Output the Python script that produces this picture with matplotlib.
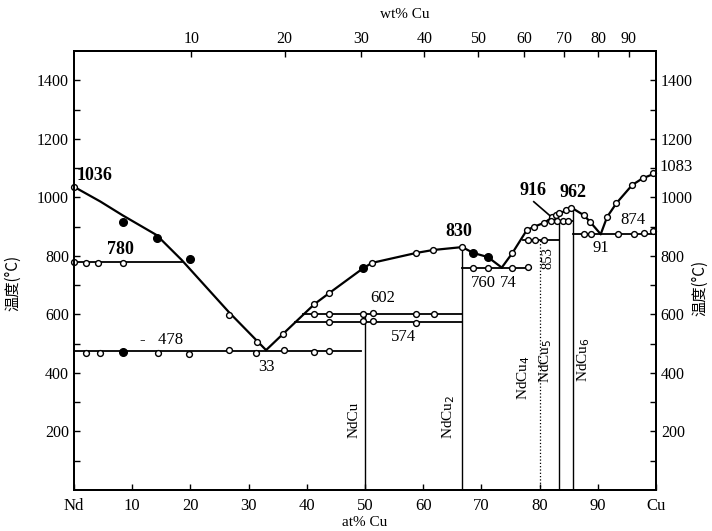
import matplotlib
matplotlib.use('Agg')
import matplotlib.pyplot as plt
import numpy as np

plt.rcParams['font.family'] = ['Liberation Serif', 'Noto Sans CJK SC', 'DejaVu Sans']

# ---------------- data (at% Cu, temperature °C) ----------------
liq1_x = [0, 4.5, 8.4, 14.2, 18.5, 26.6, 33]
liq1_t = [1036, 986, 938, 871, 786, 608, 478]
liq2_x = [33, 35.9, 41.3, 43.8, 49.7, 51.2, 58.8, 61.7, 66.7]
liq2_t = [478, 533, 635, 672, 758, 776, 810, 820, 830]
liq3_x = [66.7, 68.6, 71.1, 73.5]
liq3_t = [830, 810, 796, 760]
liq4_x = [73.5, 75.3, 77.8, 79.1, 80.8, 82.2, 83.4, 84.5, 85.7]
liq4_t = [760, 809, 888, 900, 913, 932, 944, 955, 962]
liq5_x = [85.7, 87.6, 88.6, 90.5]
liq5_t = [962, 939, 918, 874]
liq6_x = [90.5, 91.6, 93.2, 95.9, 97.7, 100]
liq6_t = [874, 933, 980, 1042, 1065, 1083]

# invariant (horizontal) lines
iso_t = [780, 475, 602, 574, 760, 853, 918, 874]
iso_x0 = [0, 0, 39.4, 38.0, 66.7, 77.2, 81.6, 85.7]
iso_x1 = [18.5, 49.3, 66.7, 66.7, 78.6, 83.3, 85.7, 100]

# compounds
comp_x = [50, 66.7, 80, 83.3, 85.7]
comp_top = [602, 830, 853, 918, 962]
comp_names = ['NdCu', 'NdCu$_2$', 'NdCu$_4$', 'NdCu$_5$', 'NdCu$_6$']
comp_style = ['-', '-', ':', '-', '-']

# measured points: open circles
open_x = [0, 26.6, 31.4, 35.9, 41.3, 43.8, 51.2, 58.8, 61.7, 66.7,
          0, 2.0, 4.2, 8.5,
          2.0, 4.5, 14.5, 19.8, 26.6, 31.3, 36.0, 41.3, 43.8,
          41.3, 43.8, 49.6, 51.3, 58.7, 61.8,
          43.8, 49.6, 51.3, 58.7,
          68.6, 71.1, 75.3, 78.0,
          75.3, 77.8, 79.1, 80.8, 82.2, 82.8, 83.4, 84.5, 85.4,
          78.0, 79.2, 80.7,
          81.9, 83.0, 84.0, 84.9,
          87.6, 88.6, 91.6, 93.2, 95.9, 97.7, 99.4,
          87.7, 88.8, 93.4, 96.2, 97.9, 99.4]
open_t = [1036, 598, 506, 533, 635, 672, 776, 810, 820, 832,
          778, 777, 777, 777,
          468, 468, 468, 466, 478, 468, 478, 470, 476,
          602, 602, 600, 604, 602, 602,
          574, 576, 576, 572,
          760, 760, 760, 762,
          809, 888, 900, 913, 934, 940, 945, 957, 965,
          853, 853, 853,
          918, 918, 918, 918,
          939, 916, 933, 980, 1042, 1065, 1083,
          874, 874, 874, 876, 879, 885]

# measured points: filled circles
fill_x = [8.5, 14.2, 19.9, 8.5, 49.7, 68.6, 71.1]
fill_t = [916, 861, 789, 472, 758, 810, 796]

# point labels
lbl_text = ['1036', '780', '-   478', '33', '602', '574', '830', '760', '74',
            '916', '962', '91', '874']
lbl_x = [0.4, 7.9, 15.0, 33.0, 53.0, 56.7, 66.1, 70.4, 74.6, 78.9, 85.7, 90.5, 96.0]
lbl_t = [1076, 822, 512, 420, 655, 524, 884, 708, 708, 1024, 1015, 826, 922]
lbl_bold = [True, True, False, False, False, False, True, False, False, True, True, False, False]
lbl_ha = ['left', 'center', 'center', 'center', 'center', 'center', 'center', 'center',
          'center', 'center', 'center', 'center', 'center']

wt_ticks = [10, 20, 30, 40, 50, 60, 70, 80, 90]
at_ticks = [0, 10, 20, 30, 40, 50, 60, 70, 80, 90, 100]
at_labels = ['Nd', '10', '20', '30', '40', '50', '60', '70', '80', '90', 'Cu']
t_ticks = [200, 400, 600, 800, 1000, 1200, 1400]

M_CU, M_ND = 63.546, 144.24


def wt_to_at(w):
    w = np.asarray(w, float)
    a = w / M_CU
    b = (100 - w) / M_ND
    return 100 * a / (a + b)


# ---------------- figure ----------------
fig = plt.figure(figsize=(7.12, 5.31), dpi=100)
ax = fig.add_axes([74 / 712, 1 - 490 / 531, (656 - 74) / 712, (490 - 51) / 531])
ax.set_xlim(0, 100)
ax.set_ylim(0, 1500)

lw_liq = 1.6
for xs, ts in [(liq1_x, liq1_t), (liq2_x, liq2_t), (liq3_x, liq3_t),
               (liq4_x, liq4_t), (liq5_x, liq5_t), (liq6_x, liq6_t)]:
    ax.plot(xs, ts, color='black', lw=lw_liq, solid_capstyle='round', zorder=3)

for t, x0, x1 in zip(iso_t, iso_x0, iso_x1):
    ax.plot([x0, x1], [t, t], color='black', lw=1.3, zorder=2)

for x, top, st in zip(comp_x, comp_top, comp_style):
    ax.plot([x, x], [0, top], color='black', lw=1.0 if st == '-' else 0.9,
            ls=st, zorder=2)

# 916 pointer
ax.plot([79.0, 82.2], [985, 930], color='black', lw=1.2, zorder=3)

ax.plot(open_x, open_t, 'o', ms=4.2, mfc='white', mec='black', mew=1.0,
        ls='none', zorder=4, clip_on=False)
ax.plot(fill_x, fill_t, 'o', ms=5.5, mfc='black', mec='black', ls='none', zorder=4)

for s, x, t, b, ha in zip(lbl_text, lbl_x, lbl_t, lbl_bold, lbl_ha):
    ax.text(x, t, s, ha=ha, va='center', fontsize=13 if b else 12,
            fontweight='bold' if b else 'normal', zorder=5)

ax.text(103.5, 1103, '1083', ha='center', va='center', fontsize=12, clip_on=False)
ax.text(81.4, 792, '853', ha='center', va='center', fontsize=10.5, rotation=90)

# compound labels
comp_lx = [48.2, 64.4, 77.2, 81.1, 87.6]
comp_ly = [240, 250, 385, 440, 445]
for name, x, y in zip(comp_names, comp_lx, comp_ly):
    ax.text(x, y, name, ha='center', va='center', rotation=90, fontsize=11)

# axes ticks
ax.set_xticks(at_ticks)
ax.set_xticklabels(at_labels, fontsize=12)
ax.set_yticks(t_ticks)
ax.set_yticklabels([str(t) for t in t_ticks], fontsize=11.5)
ax.set_yticks(np.arange(100, 1500, 200), minor=True)
ax.tick_params(axis='both', which='major', direction='in', length=4, width=1)
ax.tick_params(axis='y', which='minor', direction='in', length=4, width=1)
ax.tick_params(axis='x', pad=6)

axt = ax.twiny()
axt.set_xlim(0, 100)
axt.set_xticks(wt_to_at(wt_ticks))
axt.set_xticklabels([str(w) for w in wt_ticks], fontsize=11.5)
axt.tick_params(axis='x', direction='in', length=4, width=1, pad=3)

axr = ax.twinx()
axr.set_ylim(0, 1500)
axr.set_yticks(t_ticks)
axr.set_yticklabels([str(t) for t in t_ticks], fontsize=11.5)
axr.set_yticks(np.arange(100, 1500, 200), minor=True)
axr.tick_params(axis='y', which='both', direction='in', length=4, width=1)

for a in (ax, axt, axr):
    for sp in a.spines.values():
        sp.set_linewidth(1.3)

fig.text(405 / 712, 1 - 15 / 531, 'wt% Cu', ha='center', va='center', fontsize=11)
fig.text(365 / 712, 1 - 522 / 531, 'at% Cu', ha='center', va='center', fontsize=11)
fig.text(13 / 712, 1 - 283 / 531, '温度(°C)', ha='center', va='center', rotation=90,
         fontsize=11, family=['Noto Sans CJK SC', 'DejaVu Sans'])
fig.text(700 / 712, 1 - 288 / 531, '温度(°C)', ha='center', va='center', rotation=90,
         fontsize=11, family=['Noto Sans CJK SC', 'DejaVu Sans'])

fig.savefig('out.png', dpi=100)
